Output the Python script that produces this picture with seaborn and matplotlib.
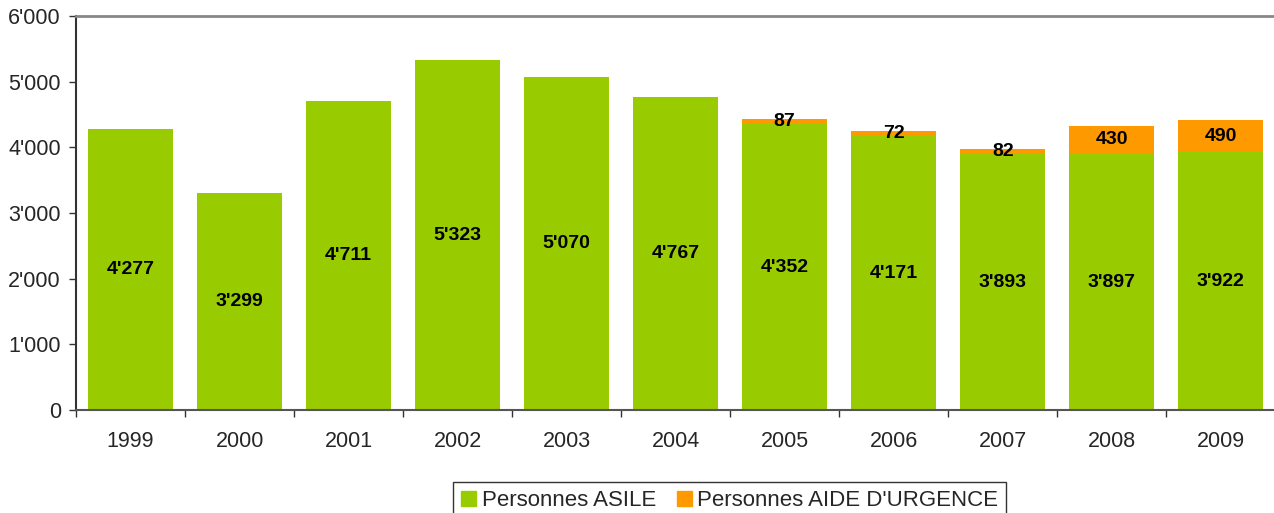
import seaborn as sns
import pandas as pd
import matplotlib.pyplot as plt
from matplotlib.lines import Line2D

years = ["1999", "2000", "2001", "2002", "2003", "2004", "2005", "2006", "2007", "2008", "2009"]
asile = [4277, 3299, 4711, 5323, 5070, 4767, 4352, 4171, 3893, 3897, 3922]
urgence = [0, 0, 0, 0, 0, 0, 87, 72, 82, 430, 490]

green = "#99CC00"
orange = "#FF9900"

sns.set_style("white")
plt.rcParams["font.family"] = ["Liberation Sans", "DejaVu Sans"]

df = pd.DataFrame({"Year": years, "Asile": asile, "Urgence": urgence})
df["Total"] = df["Asile"] + df["Urgence"]


def fmt(v):
    return f"{v:,}".replace(",", "'")


fig = plt.figure(figsize=(12.74, 5.13), dpi=100)
ax = fig.add_axes([0.0597, 0.2008, 0.9413, 0.768])

sns.barplot(ax=ax, data=df, x="Year", y="Total", color=orange, saturation=1, width=0.78, linewidth=0)
sns.barplot(ax=ax, data=df, x="Year", y="Asile", color=green, saturation=1, width=0.78, linewidth=0)

for i, row in df.iterrows():
    ax.text(i, row["Asile"] / 2, fmt(row["Asile"]), ha="center", va="center",
            fontsize=14, fontweight="bold", color="black")
    if row["Urgence"] > 0:
        ax.text(i, row["Asile"] + row["Urgence"] / 2, fmt(row["Urgence"]), ha="center",
                va="center", fontsize=14, fontweight="bold", color="black")

ax.set_ylim(0, 6000)
ax.set_xlim(-0.5, len(years) - 0.5)
ax.set_yticks(range(0, 6001, 1000))
ax.set_yticklabels([fmt(v) for v in range(0, 6001, 1000)])
ax.set_xlabel("")
ax.set_ylabel("")

ax.set_xticks([i - 0.5 for i in range(len(years) + 1)], minor=True)
ax.tick_params(axis="x", which="major", length=0, pad=15, labelsize=15.5)
ax.tick_params(axis="x", which="minor", length=5, width=1, color="#333333", direction="out", bottom=True)
ax.tick_params(axis="y", which="major", length=5, width=1, color="#333333", direction="out",
               left=True, pad=6, labelsize=15.5)

ax.spines["left"].set_color("#333333")
ax.spines["left"].set_linewidth(1.5)
ax.spines["bottom"].set_color("#555555")
ax.spines["bottom"].set_linewidth(1.5)
ax.spines["top"].set_color("#888888")
ax.spines["top"].set_linewidth(2)
ax.spines["right"].set_visible(False)

handles = [
    Line2D([], [], marker="s", linestyle="none", markersize=10.8, color=green),
    Line2D([], [], marker="s", linestyle="none", markersize=10.8, color=orange),
]
leg = fig.legend(handles, ["Personnes ASILE", "Personnes AIDE D'URGENCE"], loc="upper center",
                 bbox_to_anchor=(0.5725, 0.0604), ncol=2, fontsize=16, frameon=True, fancybox=False,
                 handlelength=0.68, handletextpad=0.27, columnspacing=0.9, borderpad=0.36,
                 borderaxespad=0)
leg.get_frame().set_edgecolor("black")
leg.get_frame().set_linewidth(1)

fig.savefig("out.png", dpi=100)
